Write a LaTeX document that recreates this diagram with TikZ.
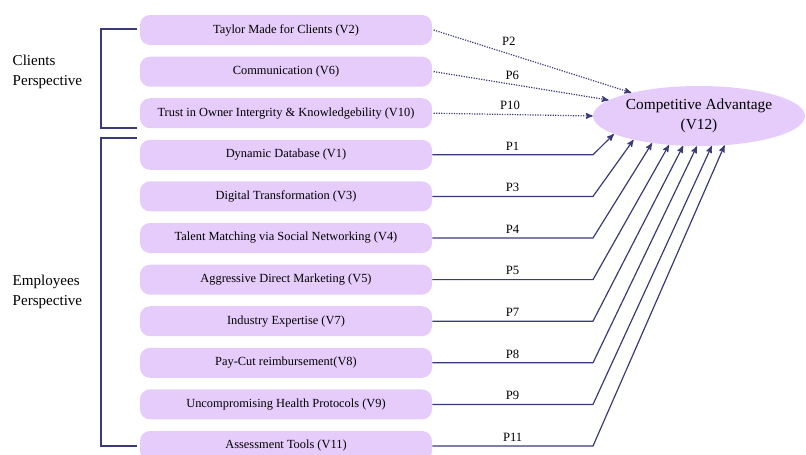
\documentclass[tikz,border=0pt]{standalone}
\usepackage{fontspec}
\setmainfont{Liberation Serif}
\usetikzlibrary{positioning}
\usetikzlibrary{arrows}
\usetikzlibrary{shapes.geometric}
\definecolor{lilac}{HTML}{E5CCFA}
\definecolor{navy}{HTML}{3A3A78}
\tikzset{
    node distance=8.3pt,
    factor/.style={
        rectangle,
        rounded corners=7.5pt,
        fill=lilac,
        minimum width=219pt,
        minimum height=22.5pt,
        font=\fontsize{9.3}{11}\selectfont
    },
    outcome/.style={
        ellipse,
        fill=lilac,
        minimum width=159pt,
        minimum height=45pt,
        inner sep=0pt,
        align=center,
        font=\fontsize{11.5}{15}\selectfont
    },
    plabel/.style={
        above,
        inner sep=3pt,
        font=\fontsize{9.5}{11}\selectfont
    },
    link/.style={
        draw=navy,
        line width=0.9pt,
        ->,>=stealth'
    },
    weaklink/.style={
        link,
        densely dotted
    },
    bracket/.style={
        draw=navy,
        line width=0.9pt
    },
    side/.style={
        anchor=west,
        align=left,
        font=\fontsize{11.3}{15}\selectfont
    }
}

\begin{document}
\begin{tikzpicture}[x=0.75pt,y=-0.75pt]
    \useasboundingbox (0,0) rectangle (806,454);

    % factors
    \node[factor] (v2) at (286,30) {Taylor Made for Clients (V2)};
    \node[factor, below=of v2] (v6) {Communication (V6)};
    \node[factor, below=of v6] (v10) {Trust in Owner Intergrity \& Knowledgebility (V10)};
    \node[factor, below=of v10] (v1) {Dynamic Database (V1)};
    \node[factor, below=of v1] (v3) {Digital Transformation (V3)};
    \node[factor, below=of v3] (v4) {Talent Matching via Social Networking (V4)};
    \node[factor, below=of v4] (v5) {Aggressive Direct Marketing (V5)};
    \node[factor, below=of v5] (v7) {Industry Expertise (V7)};
    \node[factor, below=of v7] (v8) {Pay-Cut reimbursement(V8)};
    \node[factor, below=of v8] (v9) {Uncompromising Health Protocols (V9)};
    \node[factor, below=of v9] (v11) {Assessment Tools (V11)};

    \node[outcome] (ca) at (699,116) {Competitive Advantage\\(V12)};

    % perspectives
    \node[side] (clients) at (8,72) {Clients\\Perspective};
    \node[side] (employees) at (8,292) {Employees\\Perspective};
    \draw[bracket] (137,29) -- (101,29) -- (101,128) -- (137,128);
    \draw[bracket] (137,138) -- (101,138) -- (101,446) -- (137,446);

    \coordinate (bend) at (593,0);

    % client paths
    \draw[weaklink] ([xshift=1pt]v2.east) -- node[plabel, pos=0.38, yshift=3pt] {P2} (ca.161);
    \draw[weaklink] ([xshift=1pt]v6.east) -- node[plabel, pos=0.45] {P6} (ca.170);
    \draw[weaklink] ([xshift=1pt]v10.east) -- node[plabel, pos=0.48] {P10} (ca.west);

    % employee paths
    \draw[link] (v1.east) -- node[plabel] {P1} (v1.east -| bend) -- (ca.192);
    \draw[link] (v3.east) -- node[plabel] {P3} (v3.east -| bend) -- (ca.200);
    \draw[link] (v4.east) -- node[plabel] {P4} (v4.east -| bend) -- (ca.210);
    \draw[link] (v5.east) -- node[plabel] {P5} (v5.east -| bend) -- (ca.224);
    \draw[link] (v7.east) -- node[plabel] {P7} (v7.east -| bend) -- (ca.242);
    \draw[link] (v8.east) -- node[plabel] {P8} (v8.east -| bend) -- (ca.266);
    \draw[link] (v9.east) -- node[plabel] {P9} (v9.east -| bend) -- (ca.293);
    \draw[link] (v11.east) -- node[plabel] {P11} (v11.east -| bend) -- (ca.311);
\end{tikzpicture}
\end{document}
